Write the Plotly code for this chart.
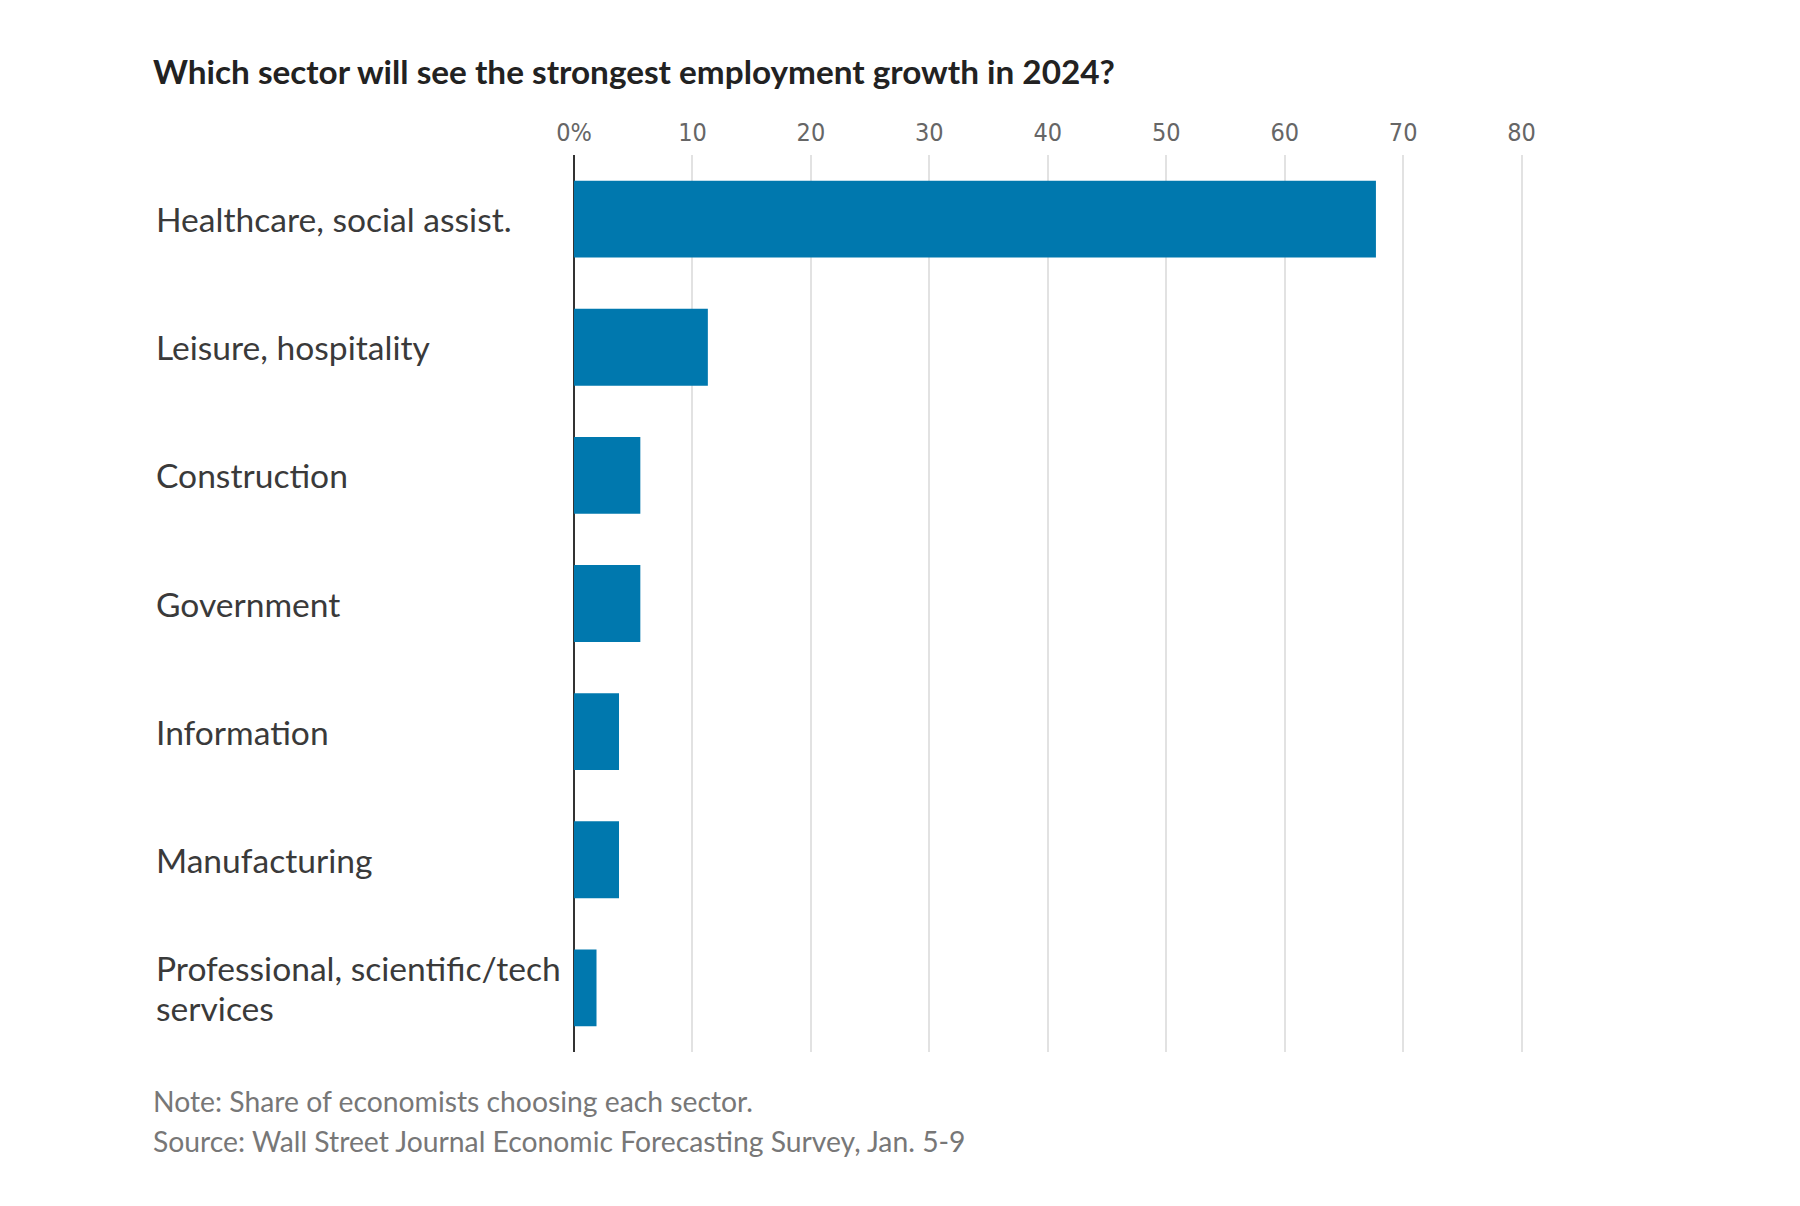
import plotly.graph_objects as go

categories = [
    "Healthcare, social assist.",
    "Leisure, hospitality",
    "Construction",
    "Government",
    "Information",
    "Manufacturing",
    "Professional, scientific/tech<br>services",
]
values = [67.7, 11.3, 5.6, 5.6, 3.8, 3.8, 1.9]
tick_vals = [0, 10, 20, 30, 40, 50, 60, 70, 80]
tick_text = ["0%", "10", "20", "30", "40", "50", "60", "70", "80"]

title = "Which sector will see the strongest employment growth in 2024?"
note = "Note: Share of economists choosing each sector."
source = "Source: Wall Street Journal Economic Forecasting Survey, Jan. 5-9"

# page body has an 8px default margin; shift everything accordingly
OFF = 8
W, H = 1800 - 2 * OFF, 1206 - 2 * OFF
x_max = 80.2
px_per_unit = 11.85
plot_left = 574 - OFF
plot_top = 155 - OFF
plot_bottom = 1052 - OFF
plot_w = px_per_unit * x_max
plot_h = plot_bottom - plot_top
L, T = plot_left, plot_top
R = W - plot_left - plot_w
B = H - plot_bottom


def px_x(px):
    return (px - OFF - plot_left) / plot_w


def px_y(py):
    return (plot_bottom - (py - OFF)) / plot_h


LABEL_FONT = "Lato, Noto Sans, sans-serif"

fig = go.Figure()
fig.add_trace(go.Bar(
    x=values, y=categories, orientation="h",
    marker=dict(color="#0078AE", line=dict(width=0)),
    hoverinfo="x+y",
))

for c in categories:
    lines = c.split("<br>")
    n = len(lines)
    spacing = 40
    for i, line in enumerate(lines):
        shift = ((n - 1) / 2 - i) * spacing
        fig.add_annotation(
            x=px_x(155), xref="paper", y=c, yref="y", yshift=shift,
            text=line, showarrow=False, xanchor="left", yanchor="middle",
            align="left", borderpad=0,
            font=dict(family=LABEL_FONT, size=33.6, color="#3a3a3a"),
        )

fig.add_annotation(
    x=px_x(151), xref="paper", y=px_y(71), yref="paper",
    text="<b>" + title + "</b>", showarrow=False, xanchor="left", yanchor="middle",
    font=dict(family=LABEL_FONT, size=33.3, color="#222222"),
)
fig.add_annotation(
    x=px_x(151), xref="paper", y=px_y(1101), yref="paper",
    text=note, showarrow=False, xanchor="left", yanchor="middle",
    font=dict(family=LABEL_FONT, size=28.3, color="#777777"),
)
fig.add_annotation(
    x=px_x(151), xref="paper", y=px_y(1141), yref="paper",
    text=source, showarrow=False, xanchor="left", yanchor="middle",
    font=dict(family=LABEL_FONT, size=28.3, color="#777777"),
)

fig.update_layout(
    width=W, height=H,
    margin=dict(l=L, r=R, t=T, b=B, pad=0),
    paper_bgcolor="white", plot_bgcolor="white",
    showlegend=False,
    bargap=0.4,
    xaxis=dict(
        side="top", range=[0, x_max], tickvals=tick_vals, ticktext=tick_text,
        showgrid=True, gridcolor="#e2e2e2", gridwidth=1.5,
        zeroline=True, zerolinecolor="#333333", zerolinewidth=2,
        showline=False, ticks="", ticklabelstandoff=8,
        tickfont=dict(family="Liberation Sans Narrow, DejaVu Sans Condensed, sans-serif",
                      size=25, color="#666666"),
        fixedrange=True,
    ),
    yaxis=dict(
        range=[6.5, -0.5], showticklabels=False, showgrid=False,
        zeroline=False, showline=False, ticks="", fixedrange=True,
    ),
)

fig.write_html("out.html")
